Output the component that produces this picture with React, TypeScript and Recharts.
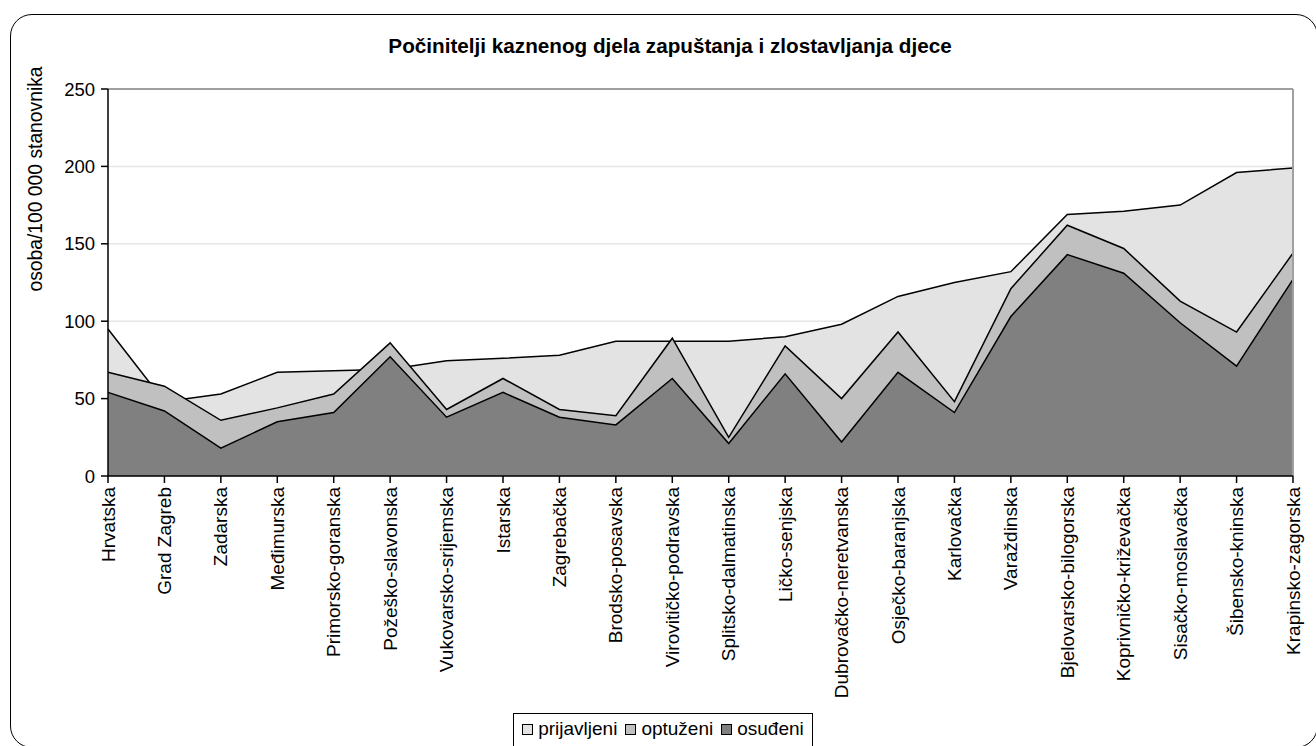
import React from 'react';
import { AreaChart, Area, XAxis, YAxis, CartesianGrid, ReferenceLine, Label } from 'recharts';

const categories = [
  'Hrvatska', 'Grad Zagreb', 'Zadarska', 'Međimurska', 'Primorsko-goranska', 'Požeško-slavonska',
  'Vukovarsko-srijemska', 'Istarska', 'Zagrebačka', 'Brodsko-posavska', 'Virovitičko-podravska',
  'Splitsko-dalmatinska', 'Ličko-senjska', 'Dubrovačko-neretvanska', 'Osječko-baranjska', 'Karlovačka',
  'Varaždinska', 'Bjelovarsko-bilogorska', 'Koprivničko-križevačka', 'Sisačko-moslavačka',
  'Šibensko-kninska', 'Krapinsko-zagorska',
];
const prijavljeni = [95, 48, 53, 67, 68, 69, 74.5, 76, 78, 87, 87, 87, 90, 98, 116, 125, 132, 169, 171, 175, 196, 199];
const optuzeni = [67, 58, 36, 44, 53, 86, 43, 63, 43, 39, 89, 25, 84, 50, 93, 48, 121, 162, 147, 113, 93, 144];
const osudeni = [54, 42, 18, 35, 41, 77, 38, 54, 38, 33, 63, 21, 66, 22, 67, 41, 103, 143, 131, 99, 71, 127];
const yTicks = [0, 50, 100, 150, 200, 250];

const seriesNames = ['prijavljeni', 'optuženi', 'osuđeni'];
const colors = ['#e3e3e3', '#c0c0c0', '#808080'];

const data = categories.map((c, i) => ({
  name: c,
  prijavljeni: prijavljeni[i],
  optuzeni: optuzeni[i],
  osudeni: osudeni[i],
}));

const FONT = '"Liberation Sans", Arial, sans-serif';
const FS = 18.5;

const XTick = (props: any) => {
  const { x, y, payload } = props;
  return (
    <text
      x={0}
      y={0}
      transform={`translate(${x + 6.5},${y + 2}) rotate(-90)`}
      textAnchor="end"
      fontSize={19}
      fontFamily={FONT}
      fill="#000"
    >
      {payload.value}
    </text>
  );
};

const YLabel = () => (
  <text
    x={0}
    y={0}
    transform="translate(42,179) rotate(-90)"
    textAnchor="middle"
    fontSize={19.3}
    fontFamily={FONT}
    fill="#000"
  >
    osoba/100 000 stanovnika
  </text>
);

export default function App() {
  return (
    <div style={{ position: 'absolute', left: 0, top: 0, width: 1316, height: 746, overflow: 'hidden', background: '#fff', fontFamily: FONT }}>
      <div
        style={{
          position: 'absolute', left: 10, top: 14, width: 1308, height: 734,
          border: '1.5px solid #000', borderRadius: 22, boxSizing: 'border-box',
        }}
      />
      <div
        style={{
          position: 'absolute', left: 16, width: 1308, top: 34, textAlign: 'center',
          fontWeight: 'bold', fontSize: 20.7, color: '#000', whiteSpace: 'nowrap',
        }}
      >
        Počinitelji kaznenog djela zapuštanja i zlostavljanja djece
      </div>
      <div style={{ position: 'absolute', left: 0, top: 0 }}>
        <AreaChart
          width={1316}
          height={746}
          data={data}
          margin={{ top: 89, right: 23, left: 0, bottom: 0 }}
        >
          <CartesianGrid vertical={false} stroke="#e6e6e6" strokeWidth={1.5} />
          <XAxis
            dataKey="name"
            interval={0}
            height={270}
            tick={<XTick />}
            tickSize={7}
            axisLine={{ stroke: '#000', strokeWidth: 1.5 }}
            tickLine={{ stroke: '#000', strokeWidth: 1.5 }}
          />
          <YAxis
            width={108}
            domain={[0, 250]}
            ticks={yTicks}
            tickSize={7}
            tickMargin={6}
            axisLine={{ stroke: '#000', strokeWidth: 1.5 }}
            tickLine={{ stroke: '#000', strokeWidth: 1.5 }}
            tick={{ fontSize: FS, fontFamily: FONT, fill: '#000' }}
          >
            <Label content={<YLabel />} />
          </YAxis>
          <ReferenceLine y={250} stroke="#a0a0a0" strokeWidth={2} />
          <ReferenceLine x="Krapinsko-zagorska" stroke="#a0a0a0" strokeWidth={2} />
          <Area type="linear" dataKey="prijavljeni" name={seriesNames[0]} fill={colors[0]} fillOpacity={1} stroke="#000" strokeWidth={1.5} isAnimationActive={false} dot={false} activeDot={false} />
          <Area type="linear" dataKey="optuzeni" name={seriesNames[1]} fill={colors[1]} fillOpacity={1} stroke="#000" strokeWidth={1.5} isAnimationActive={false} dot={false} activeDot={false} />
          <Area type="linear" dataKey="osudeni" name={seriesNames[2]} fill={colors[2]} fillOpacity={1} stroke="#000" strokeWidth={1.5} isAnimationActive={false} dot={false} activeDot={false} />
        </AreaChart>
      </div>
      <div
        style={{
          position: 'absolute', left: 513, top: 713, width: 300, height: 40,
          border: '1px solid #000', boxSizing: 'border-box', background: '#fff',
          display: 'flex', alignItems: 'flex-start', justifyContent: 'center', paddingTop: 4,
          fontSize: 19, color: '#000', gap: 8, whiteSpace: 'nowrap',
        }}
      >
        {seriesNames.map((n, i) => (
          <div key={n} style={{ display: 'flex', alignItems: 'center', gap: 5 }}>
            <span style={{ display: 'inline-block', width: 9, height: 9, border: '1px solid #000', background: colors[i] }} />
            <span>{n}</span>
          </div>
        ))}
      </div>
    </div>
  );
}
